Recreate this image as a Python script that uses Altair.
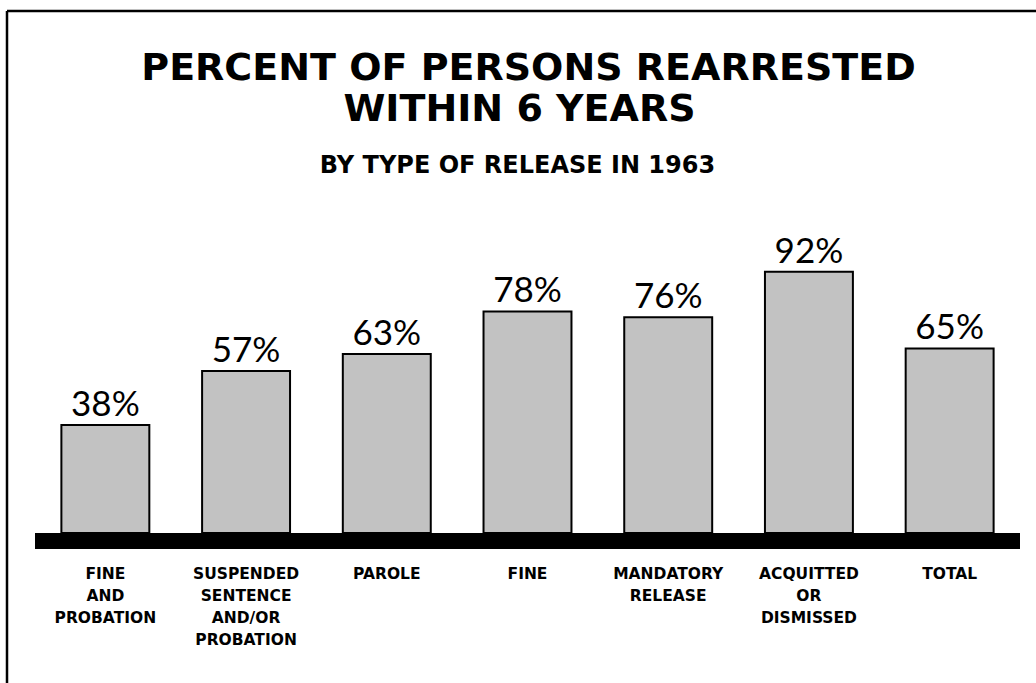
import altair as alt
import pandas as pd

# Release types (line breaks mark where each category label wraps)
categories = [
    "FINE\nAND\nPROBATION",
    "SUSPENDED\nSENTENCE\nAND/OR\nPROBATION",
    "PAROLE",
    "FINE",
    "MANDATORY\nRELEASE",
    "ACQUITTED\nOR\nDISMISSED",
    "TOTAL",
]
# Percent rearrested within 6 years
percent = [38, 57, 63, 78, 76, 92, 65]

title_line1 = "PERCENT OF PERSONS REARRESTED"
title_line2 = "WITHIN 6 YEARS"
subtitle = "BY TYPE OF RELEASE IN 1963"

W, H = 985, 284

df = pd.DataFrame({
    "release": categories,
    "percent": percent,
    "label": [f"{p}%" for p in percent],
})
one = pd.DataFrame({"k": [0]})

x = alt.X("release:N", sort=categories,
          scale=alt.Scale(paddingInner=0.375, paddingOuter=0.1875), axis=None)
y = alt.Y("percent:Q", scale=alt.Scale(domain=[0, 100]), axis=None)

base = alt.Chart(df).encode(x=x, y=y)

bars = base.mark_bar(fill="#c2c2c2", stroke="black", strokeWidth=2)

values = base.mark_text(
    font="Lato", fontSize=35, baseline="alphabetic", dy=-9, color="black"
).encode(text="label:N")

cat_labels = alt.Chart(df).mark_text(
    font="DejaVu Sans", fontWeight="bold", fontSize=15.5, lineBreak="\n",
    lineHeight=22, baseline="alphabetic", color="black"
).encode(x=x, y=alt.value(330), text="release:N")

# heavy ground line under the bars
ground = alt.Chart(one).mark_rect(color="black").encode(
    x=alt.value(0), x2=alt.value(W), y=alt.value(H), y2=alt.value(H + 16)
)

# page frame (top and left edges)
frame_top = alt.Chart(one).mark_rule(color="black", strokeWidth=2.5).encode(
    x=alt.value(-28), x2=alt.value(1001), y=alt.value(-238)
)
frame_left = alt.Chart(one).mark_rule(color="black", strokeWidth=2.5).encode(
    x=alt.value(-28), y=alt.value(-238), y2=alt.value(434)
)

def heading(text, size, cx, base_y):
    return alt.Chart(one).mark_text(
        text=text, font="DejaVu Sans", fontWeight="bold", fontSize=size,
        align="center", baseline="alphabetic", color="black"
    ).encode(x=alt.value(cx), y=alt.value(base_y))

t1 = heading(title_line1, 38, 493.5, -169)
t2 = heading(title_line2, 38, 484.5, -128)
t3 = heading(subtitle, 24, 482.5, -76)

chart = alt.layer(
    frame_top, frame_left, t1, t2, t3, bars, ground, values, cat_labels
).properties(
    width=W, height=H,
    autosize="none",
    padding={"left": 35, "top": 249, "right": 16, "bottom": 150},
    background="white",
).configure_view(stroke=None)

chart.save("out.html", embed_options={"renderer": "svg", "actions": False})
